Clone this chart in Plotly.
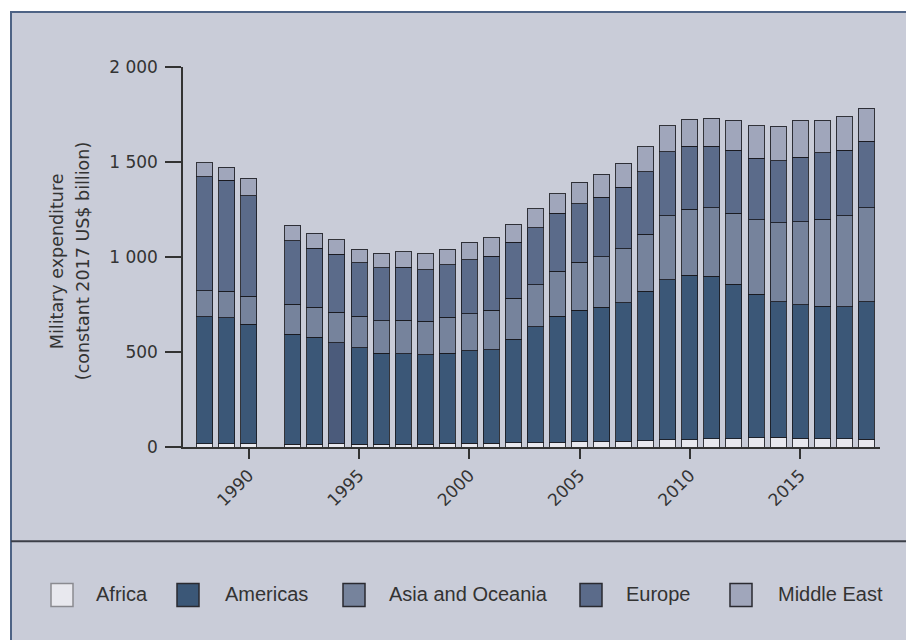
import plotly.graph_objects as go

# ---------------- data ----------------
years = [1988, 1989, 1990, 1992, 1993, 1994, 1995, 1996, 1997, 1998, 1999,
         2000, 2001, 2002, 2003, 2004, 2005, 2006, 2007, 2008, 2009,
         2010, 2011, 2012, 2013, 2014, 2015, 2016, 2017, 2018]

africa = [18, 18, 18, 14, 15, 16, 14, 14, 14, 15, 19,
          21, 19, 23, 22, 22, 27, 28, 29, 34, 38,
          39, 44, 44, 48, 51, 45, 44, 44, 40]

americas = [667, 662, 627, 580, 562, 532, 508, 480, 476, 470, 475,
            485, 494, 545, 611, 665, 694, 708, 730, 785, 843,
            864, 854, 812, 757, 714, 704, 698, 694, 725]

asia_oceania = [137, 141, 148, 158, 159, 162, 165, 170, 176, 176, 188,
                195, 206, 216, 221, 239, 251, 266, 285, 301, 337,
                348, 360, 374, 392, 416, 437, 458, 480, 495]

europe = [601, 583, 530, 333, 310, 304, 283, 280, 281, 271, 276,
          285, 286, 293, 301, 304, 307, 313, 322, 328, 337,
          331, 326, 331, 323, 325, 338, 350, 343, 348]

middle_east = [74, 69, 92, 82, 79, 77, 71, 76, 81, 86, 84,
               91, 97, 95, 98, 104, 115, 121, 128, 132, 137,
               142, 145, 158, 172, 183, 195, 169, 177, 176]

series_names = ["Africa", "Americas", "Asia and Oceania", "Europe", "Middle East"]
y_tick_vals = [0, 500, 1000, 1500, 2000]
y_tick_text = ["0", "500", "1 000", "1 500", "2 000"]
x_tick_vals = [1990, 1995, 2000, 2005, 2010, 2015]
y_title_lines = ["Military expenditure", "(constant 2017 US$ billion)"]

# ---------------- styling ----------------
BG = "#C9CCD8"
colors = {
    "Africa": "#E8E8EE",
    "Americas": "#3B5777",
    "Asia and Oceania": "#76839C",
    "Europe": "#5B6B8A",
    "Middle East": "#A0A6BB",
}
OUTLINE = "rgba(25,25,30,0.85)"
TEXT = "#333333"
FONT = "DejaVu Sans, sans-serif"

W, H = 906, 640
# plot area in window pixels
PLOT_L, PLOT_R, PLOT_T, PLOT_B = 183, 880, 67, 446.7
ML = PLOT_L
MR = W - PLOT_R
MT = PLOT_T
MB = H - PLOT_B
PW = PLOT_R - PLOT_L
PH = PLOT_B - PLOT_T


def px(x):
    return (x - PLOT_L) / PW


def py(y):
    return (PLOT_B - y) / PH


values = [africa, americas, asia_oceania, europe, middle_east]

fig = go.Figure()
for name, vals in zip(series_names, values):
    col = colors[name]
    if name == "Americas":
        col = [colors[name]] * len(years)
        col[years.index(1994)] = "#4B5B7B"
    fig.add_trace(go.Bar(
        x=years, y=vals, name=name,
        marker=dict(color=col, line=dict(color=OUTLINE, width=1)),
        showlegend=False,
    ))

shapes = []
# outer panel with border
shapes.append(dict(type="rect", xref="paper", yref="paper",
                   x0=px(11), x1=px(930), y0=py(660), y1=py(12),
                   fillcolor=BG, line=dict(color="#4E6385", width=2),
                   layer="below"))
# separator line above legend
shapes.append(dict(type="line", xref="paper", yref="paper",
                   x0=px(11), x1=px(930), y0=py(541), y1=py(541),
                   line=dict(color="#3C3F48", width=2), layer="above"))

annotations = []
legend_box_x = [51, 177, 343, 580, 730]
legend_text_x = [94, 223, 387, 624, 776]
box_top, box_bot, text_y = 583, 606, 594
for name, bx, tx in zip(series_names, legend_box_x, legend_text_x):
    edge = "#8A8A90" if name == "Africa" else "#2A2A30"
    shapes.append(dict(type="rect", xref="paper", yref="paper",
                       x0=px(bx), x1=px(bx + 22), y0=py(box_bot), y1=py(box_top),
                       fillcolor=colors[name], line=dict(color=edge, width=1.5),
                       layer="above"))
    annotations.append(dict(xref="paper", yref="paper", x=px(tx), y=py(text_y),
                            text=name, showarrow=False, xanchor="left",
                            yanchor="middle",
                            font=dict(family="Liberation Sans, Arial, sans-serif",
                                      size=20, color=TEXT)))

# y-axis title as two rotated lines
for line_text, lx in zip(y_title_lines, [57, 83]):
    annotations.append(dict(xref="paper", yref="paper", x=px(lx), y=py(261),
                            text=line_text, showarrow=False, textangle=-90,
                            xanchor="center", yanchor="middle",
                            font=dict(family=FONT, size=17.5, color=TEXT)))

fig.update_layout(
    width=W, height=H,
    margin=dict(l=ML, r=MR, t=MT, b=MB, pad=0),
    paper_bgcolor="white",
    plot_bgcolor="rgba(0,0,0,0)",
    barmode="stack",
    bargap=0.275,
    shapes=shapes,
    annotations=annotations,
    font=dict(family=FONT, size=17, color=TEXT),
    xaxis=dict(
        range=[1987.02, 2018.62],
        tickmode="array", tickvals=x_tick_vals,
        tickangle=-45,
        ticks="outside", ticklen=10, tickwidth=1.5, tickcolor=TEXT,
        showline=True, linecolor=TEXT, linewidth=1.5,
        showgrid=False, zeroline=False,
        tickfont=dict(family=FONT, size=17, color=TEXT),
        automargin=False,
    ),
    yaxis=dict(
        range=[0, 2000],
        tickmode="array", tickvals=y_tick_vals, ticktext=y_tick_text,
        ticks="outside", ticklen=16, tickwidth=1.5, tickcolor=TEXT,
        showline=True, linecolor=TEXT, linewidth=1.5,
        showgrid=False, zeroline=False,
        tickfont=dict(family=FONT, size=17, color=TEXT),
        ticklabelstandoff=4,
        automargin=False,
    ),
)

fig.write_html(
    "out.html",
    config={"displayModeBar": False},
    post_script="document.body.style.margin='0';document.body.style.overflow='hidden';",
)
